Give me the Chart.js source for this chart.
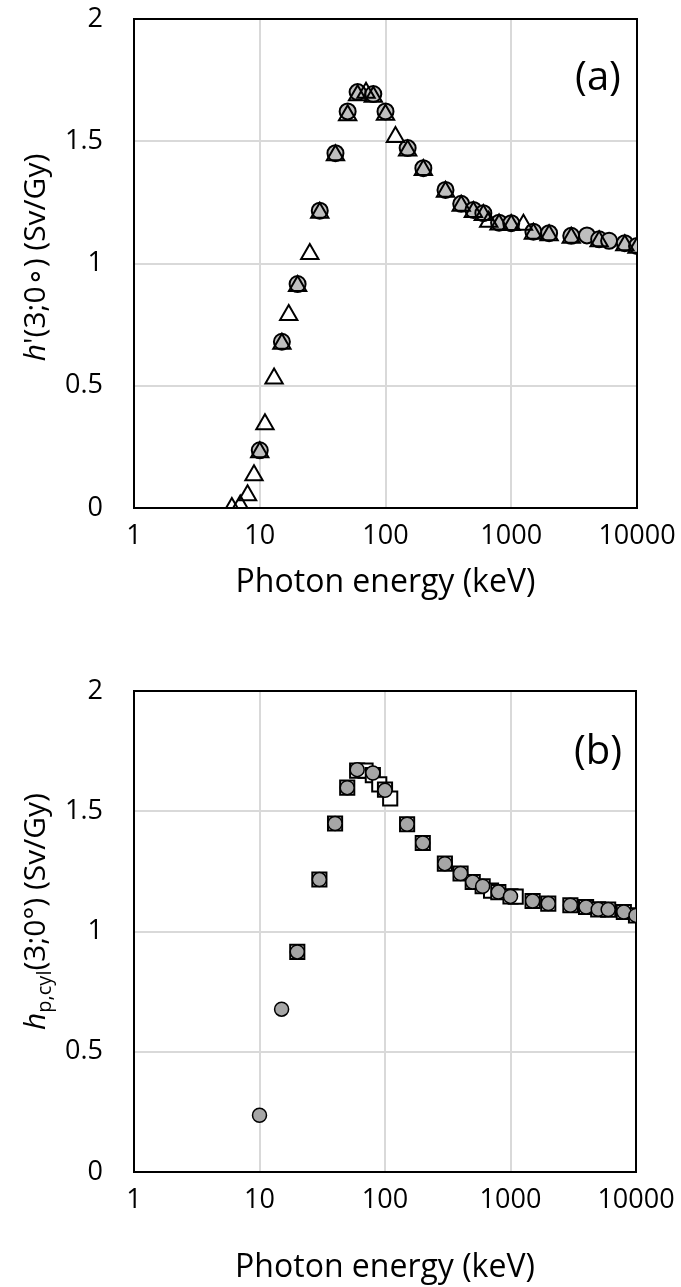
<!DOCTYPE html>
<html><head><meta charset="utf-8">
<script src="https://cdn.jsdelivr.net/npm/chart.js@4/dist/chart.umd.min.js"></script>
<style>
html,body{margin:0;padding:0;background:#fff;}
#wrap{position:relative;width:681px;height:1287px;overflow:hidden;}
.c{position:absolute;left:0;width:681px;}
</style></head><body>
<div id="wrap">
<div class="c" style="top:0;height:640px"><canvas id="ca" width="681" height="640"></canvas></div>
<div class="c" style="top:640px;height:647px"><canvas id="cb" width="681" height="647"></canvas></div>
</div>
<script>
// ---- data ----
const xTickValues = [1, 10, 100, 1000, 10000];
const yTickValues = [0, 0.5, 1, 1.5, 2];

const aCircleE = [10,15,20,30,40,50,60,80,100,150,200,300,400,500,600,800,1000,1500,2000,3000,4000,5000,6000,8000,10000];
const aCircleV = [0.236,0.68,0.916,1.216,1.451,1.622,1.701,1.693,1.622,1.472,1.39,1.301,1.244,1.219,1.206,1.167,1.165,1.13,1.124,1.113,1.115,1.099,1.093,1.083,1.072];

const aTriE = [6,7,8,9,10,11,13,15,17,20,25,30,40,50,60,70,80,100,120,150,200,300,400,500,600,662,800,1000,1250,1500,2000,3000,5000,8000,10000];
const aTriV = [0.0,0.01,0.052,0.134,0.228,0.343,0.53,0.672,0.789,0.908,1.039,1.208,1.443,1.606,1.688,1.698,1.682,1.608,1.517,1.462,1.382,1.293,1.236,1.211,1.198,1.171,1.159,1.157,1.158,1.122,1.116,1.105,1.091,1.075,1.064];

const bCircleE = [10,15,20,30,40,50,60,80,100,150,200,300,400,500,600,800,1000,1500,2000,3000,4000,5000,6000,8000,10000];
const bCircleV = [0.236,0.677,0.915,1.216,1.449,1.598,1.673,1.659,1.587,1.446,1.368,1.282,1.241,1.206,1.188,1.164,1.146,1.127,1.116,1.109,1.102,1.092,1.091,1.081,1.067];

const bSquareE = [20,30,40,50,60,70,80,90,100,110,150,200,300,400,500,600,700,800,1000,1100,1500,2000,3000,4000,5000,6000,8000,10000];
const bSquareV = [0.915,1.216,1.449,1.598,1.669,1.669,1.65,1.612,1.59,1.553,1.446,1.368,1.282,1.241,1.206,1.188,1.17,1.164,1.146,1.145,1.127,1.116,1.109,1.102,1.092,1.091,1.081,1.067];

const xTitle = 'Photon energy (keV)';
const panelA = '(a)', panelB = '(b)';
const yTitleA = [{t:'h', it:true}, {t:"'(3;0\u2218) (Sv/Gy)"}];
const yTitleB = [{t:'h', it:true}, {t:'p,cyl', sub:true}, {t:'(3;0\u00B0) (Sv/Gy)'}];

// ---- helpers ----
const FONT = "'Open Sans', 'Liberation Sans', sans-serif";
const pts = (E, V) => E.map((e, i) => ({x: e, y: V[i]}));

const decoPlugin = {
  id: 'deco',
  beforeDatasetsDraw(chart, args, o) {
    const {ctx, chartArea: a} = chart;
    ctx.save();
    ctx.strokeStyle = '#000';
    ctx.lineWidth = 2;
    ctx.strokeRect(a.left, a.top, a.right - a.left, a.bottom - a.top);
    ctx.restore();
  },
  afterDraw(chart, args, o) {
    const {ctx, chartArea: a} = chart;
    ctx.save();
    ctx.fillStyle = '#000';
    ctx.font = o.panelSize + 'px ' + FONT;
    ctx.textAlign = 'center';
    ctx.textBaseline = 'middle';
    ctx.fillText(o.panel, o.panelX, a.top + o.panelDY);
    const size = o.titleSize;
    const subSize = Math.round(size * 0.66);
    const fontOf = s => (s.it ? 'italic ' : '') + (s.sub ? subSize : size) + 'px ' + FONT;
    let total = 0;
    o.yTitle.forEach(s => { ctx.font = fontOf(s); s.w = ctx.measureText(s.t).width; total += s.w; });
    ctx.translate(o.yTitleX, (a.top + a.bottom) / 2 + o.yTitleDY);
    ctx.rotate(-Math.PI / 2);
    ctx.textAlign = 'left';
    ctx.textBaseline = 'alphabetic';
    let x = -total / 2;
    const base = size * 0.36;
    o.yTitle.forEach(s => {
      ctx.font = fontOf(s);
      ctx.fillText(s.t, x, base + (s.sub ? size * 0.22 : 0));
      x += s.w;
    });
    ctx.restore();
  }
};

function makeChart(id, datasets, cfg) {
  return new Chart(document.getElementById(id), {
    type: 'scatter',
    data: {datasets},
    plugins: [decoPlugin],
    options: {
      responsive: false,
      animation: false,
      events: [],
      layout: {padding: {top: cfg.top, right: cfg.right, left: 0, bottom: cfg.bottom}},
      plugins: {
        legend: {display: false},
        tooltip: {enabled: false},
        deco: cfg.deco
      },
      scales: {
        x: {
          type: 'logarithmic',
          min: 1, max: 10000,
          afterBuildTicks: s => { s.ticks = xTickValues.map(v => ({value: v})); },
          afterFit: s => { s.height = cfg.xAxisH; s.paddingLeft = 0; s.paddingRight = 0; },
          grid: {color: '#d9d9d9', lineWidth: 2, drawTicks: false},
          border: {display: false},
          ticks: {
            color: '#000', font: {family: FONT, size: cfg.tickSize},
            padding: cfg.xTickPad, maxRotation: 0, autoSkip: false,
            callback: v => String(v)
          },
          title: {display: true, text: xTitle, color: '#000',
                  font: {family: FONT, size: cfg.titleSize}, padding: {top: 0, bottom: 0}}
        },
        y: {
          min: 0, max: 2,
          afterBuildTicks: s => { s.ticks = yTickValues.map(v => ({value: v})); },
          afterFit: s => { s.width = cfg.yAxisW; s.paddingTop = 0; s.paddingBottom = 0; },
          grid: {color: '#d9d9d9', lineWidth: 2, drawTicks: false},
          border: {display: false},
          ticks: {
            color: '#000', font: {family: FONT, size: cfg.tickSize},
            padding: cfg.yTickPad, callback: v => String(v)
          }
        }
      }
    }
  });
}

makeChart('ca', [
  {label: 'tri', data: pts(aTriE, aTriV), pointStyle: 'triangle', pointRadius: 10, pointHoverRadius: 10,
   backgroundColor: 'rgba(255,255,255,0)', borderColor: '#000', borderWidth: 2, pointBorderWidth: 2},
  {label: 'circ', data: pts(aCircleE, aCircleV), pointStyle: 'circle', pointRadius: 8, pointHoverRadius: 8,
   backgroundColor: '#bfbfbf', borderColor: '#000', borderWidth: 2, pointBorderWidth: 2}
], {top: 19, right: 44, bottom: 38, xAxisH: 94, yAxisW: 134, tickSize: 27, titleSize: 32, xTickPad: 12, yTickPad: 31,
    deco: {panel: panelA, panelX: 598, panelDY: 60, panelSize: 40, titleSize: 30, yTitle: yTitleA, yTitleX: 34, yTitleDY: -6}});

makeChart('cb', [
  {label: 'circ', data: pts(bCircleE, bCircleV), pointStyle: 'circle', pointRadius: 7, pointHoverRadius: 7,
   backgroundColor: '#a6a6a6', borderColor: '#000', borderWidth: 1.5, pointBorderWidth: 1.5},
  {label: 'sq', data: pts(bSquareE, bSquareV), pointStyle: 'rect', pointRadius: 10, pointHoverRadius: 10,
   backgroundColor: '#ffffff', borderColor: '#000', borderWidth: 2, pointBorderWidth: 2}
], {top: 51, right: 45, bottom: 0, xAxisH: 115, yAxisW: 134, tickSize: 27, titleSize: 32, xTickPad: 12, yTickPad: 31,
    deco: {panel: panelB, panelX: 598, panelDY: 62, panelSize: 40, titleSize: 30, yTitle: yTitleB, yTitleX: 34, yTitleDY: -20}});
</script>
</body></html>
